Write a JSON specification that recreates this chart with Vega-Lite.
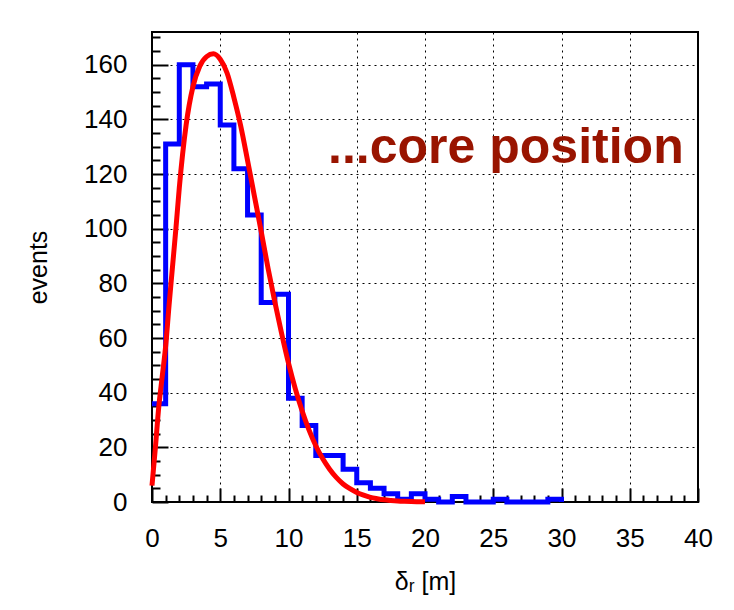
{
  "$schema": "https://vega.github.io/schema/vega-lite/v6.json",
  "width": 546,
  "height": 470,
  "autosize": {"type": "none"},
  "padding": {"left": 152, "top": 32, "right": 36, "bottom": 108},
  "background": "white",
  "config": {
    "view": {"stroke": "#000000", "strokeWidth": 2},
    "axis": {
      "domain": false,
      "labelFont": "Liberation Sans",
      "labelFontSize": 26,
      "labelColor": "#000000",
      "titleFont": "Liberation Sans",
      "titleFontSize": 25,
      "titleFontWeight": "normal",
      "titleColor": "#000000",
      "tickColor": "#000000",
      "tickWidth": 2,
      "gridColor": "#000000",
      "gridWidth": 1,
      "gridDash": [2, 4],
      "labelOverlap": false,
      "labelFlush": false
    }
  },
  "datasets": {
    "hist": [
      {"r": 0, "events": 36}, {"r": 1, "events": 131}, {"r": 2, "events": 160}, {"r": 3, "events": 152},
      {"r": 4, "events": 153}, {"r": 5, "events": 138}, {"r": 6, "events": 122}, {"r": 7, "events": 105},
      {"r": 8, "events": 73}, {"r": 9, "events": 76}, {"r": 10, "events": 38}, {"r": 11, "events": 28},
      {"r": 12, "events": 17}, {"r": 13, "events": 17}, {"r": 14, "events": 12}, {"r": 15, "events": 7},
      {"r": 16, "events": 5}, {"r": 17, "events": 3}, {"r": 18, "events": 1}, {"r": 19, "events": 3},
      {"r": 20, "events": 1}, {"r": 21, "events": 0}, {"r": 22, "events": 2}, {"r": 23, "events": 0},
      {"r": 24, "events": 0}, {"r": 25, "events": 1}, {"r": 26, "events": 0}, {"r": 27, "events": 0},
      {"r": 28, "events": 0}, {"r": 29, "events": 1}, {"r": 30, "events": 0}
    ],
    "fit": [
      {"r": 0, "events": 6}, {"r": 0.25, "events": 20}, {"r": 0.5, "events": 35}, {"r": 0.75, "events": 46},
      {"r": 1, "events": 57}, {"r": 1.25, "events": 72}, {"r": 1.5, "events": 86}, {"r": 1.75, "events": 100},
      {"r": 2, "events": 115}, {"r": 2.5, "events": 138}, {"r": 3, "events": 152}, {"r": 3.5, "events": 159.5},
      {"r": 4, "events": 163}, {"r": 4.5, "events": 164}, {"r": 5, "events": 162}, {"r": 5.5, "events": 157},
      {"r": 6, "events": 148}, {"r": 6.5, "events": 137.6}, {"r": 7, "events": 125}, {"r": 7.5, "events": 112},
      {"r": 8, "events": 99}, {"r": 8.5, "events": 85.6}, {"r": 9, "events": 73.2}, {"r": 9.5, "events": 61.6},
      {"r": 10, "events": 50.8}, {"r": 10.5, "events": 41.4}, {"r": 11, "events": 33.3}, {"r": 11.5, "events": 26.4},
      {"r": 12, "events": 20.6}, {"r": 12.5, "events": 15.9}, {"r": 13, "events": 12.1}, {"r": 13.5, "events": 9},
      {"r": 14, "events": 6.6}, {"r": 14.5, "events": 4.85}, {"r": 15, "events": 3.5}, {"r": 15.5, "events": 2.5},
      {"r": 16, "events": 1.7}, {"r": 16.5, "events": 1.2}, {"r": 17, "events": 0.8}, {"r": 17.5, "events": 0.55},
      {"r": 18, "events": 0.36}, {"r": 18.5, "events": 0.24}, {"r": 19, "events": 0.15}, {"r": 19.5, "events": 0.1},
      {"r": 20, "events": 0.06}
    ]
  },
  "layer": [
    {
      "data": {"name": "hist"},
      "mark": {"type": "line", "interpolate": "step-after", "color": "#0000ff", "strokeWidth": 5, "strokeJoin": "miter", "strokeCap": "butt", "clip": false},
      "encoding": {
        "x": {
          "field": "r", "type": "quantitative",
          "scale": {"domain": [0, 40], "nice": false, "zero": false},
          "axis": {
            "title": "δᵣ [m]",
            "format": "d",
            "values": [0,1,2,3,4,5,6,7,8,9,10,11,12,13,14,15,16,17,18,19,20,21,22,23,24,25,26,27,28,29,30,31,32,33,34,35,36,37,38,39,40],
            "tickCount": 200,
            "labelExpr": "datum.value % 5 === 0 ? datum.label : ''",
            "tickSize": {"condition": {"test": "datum.value % 5 === 0", "value": -14}, "value": -7},
            "gridOpacity": {"condition": {"test": "datum.value % 5 === 0", "value": 1}, "value": 0},
            "grid": true,
            "labelPadding": 37,
            "titlePadding": 11
          }
        },
        "y": {
          "field": "events", "type": "quantitative",
          "scale": {"domain": [0, 172], "nice": false},
          "axis": {
            "title": "events",
            "format": "d",
            "values": [0,5,10,15,20,25,30,35,40,45,50,55,60,65,70,75,80,85,90,95,100,105,110,115,120,125,130,135,140,145,150,155,160,165,170],
            "tickCount": 200,
            "labelExpr": "datum.value % 20 === 0 ? datum.label : ''",
            "tickSize": {"condition": {"test": "datum.value % 20 === 0", "value": -16}, "value": -8},
            "gridOpacity": {"condition": {"test": "datum.value % 20 === 0", "value": 1}, "value": 0},
            "grid": true,
            "labelPadding": 41,
            "titlePadding": 32
          }
        }
      }
    },
    {
      "data": {"name": "fit"},
      "mark": {"type": "line", "interpolate": "monotone", "color": "#ff0000", "strokeWidth": 5, "clip": false},
      "encoding": {
        "x": {"field": "r", "type": "quantitative"},
        "y": {"field": "events", "type": "quantitative"}
      }
    },
    {
      "data": {"values": [{}]},
      "mark": {"type": "text", "font": "Liberation Sans", "fontWeight": "bold", "fontSize": 50, "color": "#991400", "align": "left", "baseline": "alphabetic"},
      "encoding": {
        "x": {"datum": 12.9},
        "y": {"datum": 124},
        "text": {"value": "...core position"}
      }
    }
  ]
}
